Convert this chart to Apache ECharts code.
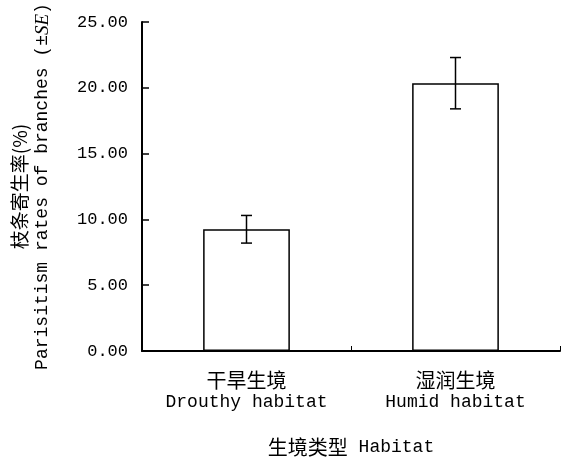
<!DOCTYPE html>
<html>
<head>
<meta charset="utf-8">
<script src="https://cdn.jsdelivr.net/npm/echarts@6/dist/echarts.min.js"></script>
<style>
  html, body { margin: 0; padding: 0; background: #fff; }
  #chart { width: 570px; height: 462px; }
</style>
</head>
<body>
<div id="chart"></div>
<script>
// Habitat categories (Chinese / English)
const categoriesCn = ['干旱生境', '湿润生境'];
const categoriesEn = ['Drouthy habitat', 'Humid habitat'];
// Mean parasitism rate of branches (%) and its standard error
const meanRates = [9.25, 20.35];
const seRates = [1.05, 1.95];
// Y axis ticks
const yMin = 0, yMax = 25, yStep = 5;

const mono = '"Liberation Mono", "DejaVu Sans Mono", monospace';
const cjk = '"Noto Sans CJK SC", "Noto Sans CJK JP", sans-serif';

const chart = echarts.init(document.getElementById('chart'), null, { renderer: 'canvas' });

const errData = meanRates.map((m, i) => [i, m - seRates[i], m + seRates[i]]);

chart.setOption({
  animation: false,
  backgroundColor: '#fff',
  grid: { left: 142, right: 10, top: 22, bottom: 110 },
  xAxis: {
    type: 'category',
    data: categoriesCn.map((c, i) => c + '\n' + categoriesEn[i]),
    axisLine: { lineStyle: { color: '#000', width: 2 } },
    axisTick: { show: true, inside: true, length: 5, alignWithLabel: false, lineStyle: { color: '#000', width: 1 } },
    axisLabel: {
      margin: 18,
      formatter: (v, i) => '{cn|' + categoriesCn[i] + '}\n{en|' + categoriesEn[i] + '}',
      rich: {
        cn: { fontFamily: cjk, fontSize: 20, lineHeight: 22, color: '#000' },
        en: { fontFamily: mono, fontSize: 18, lineHeight: 22, color: '#000' }
      }
    },
    name: '{cn|生境类型}{en| Habitat}',
    nameLocation: 'middle',
    nameGap: 86,
    nameTextStyle: {
      rich: {
        cn: { fontFamily: cjk, fontSize: 20, color: '#000' },
        en: { fontFamily: mono, fontSize: 18, color: '#000' }
      }
    }
  },
  yAxis: {
    type: 'value',
    min: yMin,
    max: yMax,
    interval: yStep,
    splitLine: { show: false },
    axisLine: { show: true, lineStyle: { color: '#000', width: 2 } },
    axisTick: { show: true, inside: true, length: 7, lineStyle: { color: '#000', width: 1.5 } },
    axisLabel: {
      margin: 14,
      fontFamily: mono,
      fontSize: 17,
      color: '#000',
      formatter: v => v.toFixed(2)
    },
    name: '{cn|枝条寄生率(%)}\n{en|Parisitism rates of branches (±}{it|SE}{en|)}',
    nameLocation: 'middle',
    nameRotate: 90,
    nameGap: 88,
    nameTextStyle: {
      align: 'center',
      rich: {
        cn: { fontFamily: cjk, fontSize: 19, lineHeight: 23, color: '#000' },
        en: { fontFamily: mono, fontSize: 18, lineHeight: 23, color: '#000' },
        it: { fontFamily: '"Liberation Serif", serif', fontStyle: 'italic', fontSize: 19, lineHeight: 23, color: '#000' }
      }
    }
  },
  series: [
    {
      type: 'bar',
      data: meanRates,
      barWidth: '41.5%',
      itemStyle: { color: '#fff', borderColor: '#000', borderWidth: 1.5 }
    },
    {
      type: 'custom',
      data: errData,
      z: 10,
      renderItem: (params, api) => {
        const x = api.value(0);
        const lo = api.coord([x, api.value(1)]);
        const hi = api.coord([x, api.value(2)]);
        const half = 5.5;
        const style = { stroke: '#000', lineWidth: 1.5, fill: null };
        return {
          type: 'group',
          children: [
            { type: 'line', shape: { x1: lo[0], y1: lo[1], x2: hi[0], y2: hi[1] }, style },
            { type: 'line', shape: { x1: hi[0] - half, y1: hi[1], x2: hi[0] + half, y2: hi[1] }, style },
            { type: 'line', shape: { x1: lo[0] - half, y1: lo[1], x2: lo[0] + half, y2: lo[1] }, style }
          ]
        };
      }
    }
  ]
});
</script>
</body>
</html>
